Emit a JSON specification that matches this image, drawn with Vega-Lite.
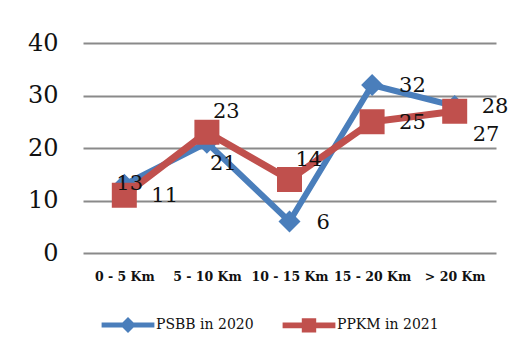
{
  "$schema": "https://vega.github.io/schema/vega-lite/v6.json",
  "width": 413,
  "height": 210,
  "autosize": {"type": "none"},
  "padding": {"left": 83, "top": 43, "right": 15, "bottom": 105},
  "background": "white",
  "config": {
    "view": {"stroke": null},
    "font": "DejaVu Serif"
  },
  "data": {
    "values": [
      {"dist": "0 - 5 Km", "series": "PSBB in 2020", "value": 13},
      {"dist": "5 - 10 Km", "series": "PSBB in 2020", "value": 21},
      {"dist": "10 - 15 Km", "series": "PSBB in 2020", "value": 6},
      {"dist": "15 - 20 Km", "series": "PSBB in 2020", "value": 32},
      {"dist": "> 20 Km", "series": "PSBB in 2020", "value": 28},
      {"dist": "0 - 5 Km", "series": "PPKM in 2021", "value": 11},
      {"dist": "5 - 10 Km", "series": "PPKM in 2021", "value": 23},
      {"dist": "10 - 15 Km", "series": "PPKM in 2021", "value": 14},
      {"dist": "15 - 20 Km", "series": "PPKM in 2021", "value": 25},
      {"dist": "> 20 Km", "series": "PPKM in 2021", "value": 27}
    ]
  },
  "encoding": {
    "x": {
      "field": "dist",
      "type": "nominal",
      "sort": ["0 - 5 Km", "5 - 10 Km", "10 - 15 Km", "15 - 20 Km", "> 20 Km"],
      "scale": {"type": "point", "padding": 0.5},
      "title": null,
      "axis": {
        "domain": false,
        "ticks": false,
        "tickSize": 0,
        "labelAngle": 0,
        "labelPadding": 17,
        "labelFont": "DejaVu Serif",
        "labelFontSize": 12.5,
        "labelFontWeight": "bold",
        "labelColor": "#111111"
      }
    },
    "y": {
      "field": "value",
      "type": "quantitative",
      "scale": {"domain": [0, 40]},
      "title": null,
      "axis": {
        "values": [0, 10, 20, 30, 40],
        "domain": false,
        "ticks": false,
        "tickSize": 0,
        "labelPadding": 25,
        "labelFont": "DejaVu Serif",
        "labelFontSize": 24,
        "labelColor": "#111111",
        "gridColor": "#8a8a8a",
        "gridWidth": 2,
        "gridOpacity": 1
      }
    }
  },
  "layer": [
    {
      "transform": [{"filter": "datum.series == 'PSBB in 2020'"}],
      "mark": {"type": "line", "strokeWidth": 6, "strokeJoin": "miter"},
      "encoding": {
        "color": {
          "field": "series",
          "type": "nominal",
          "scale": {"domain": ["PSBB in 2020", "PPKM in 2021"], "range": ["#4a7ebb", "#c0504d"]},
          "legend": {
            "orient": "none",
            "direction": "horizontal",
            "legendX": 37,
            "legendY": 274,
            "title": null,
            "padding": 0,
            "symbolSize": 256,
            "labelOffset": 20,
            "columnPadding": 28,
            "labelFont": "DejaVu Serif",
            "labelFontSize": 14,
            "labelColor": "#111111",
            "encode": {
              "symbols": {
                "update": {
                  "shape": {"signal": "datum.value == 'PSBB in 2020' ? 'M-3.3,-0.3L3.3,-0.3L3.3,0.3L-3.3,0.3ZM0,-1L1,0L0,1L-1,0Z' : 'M-3.3,-0.35L3.3,-0.35L3.3,0.35L-3.3,0.35ZM-0.9,-0.9L0.9,-0.9L0.9,0.9L-0.9,0.9Z'"},
                  "fill": {"signal": "scale('color', datum.value)"},
                  "stroke": {"value": "transparent"},
                  "strokeWidth": {"value": 0},
                  "opacity": {"value": 1}
                }
              }
            }
          }
        }
      }
    },
    {
      "transform": [{"filter": "datum.series == 'PSBB in 2020'"}],
      "mark": {"type": "point", "shape": "diamond", "filled": true, "size": 484, "color": "#4a7ebb", "opacity": 1}
    },
    {
      "transform": [{"filter": "datum.series == 'PPKM in 2021'"}],
      "mark": {"type": "line", "strokeWidth": 7, "strokeJoin": "miter"},
      "encoding": {
        "color": {"field": "series", "type": "nominal"}
      }
    },
    {
      "transform": [{"filter": "datum.series == 'PPKM in 2021'"}],
      "mark": {"type": "point", "shape": "square", "filled": true, "size": 625, "color": "#c0504d", "opacity": 1}
    },
    {
      "transform": [{"filter": "(datum.series == 'PPKM in 2021' && (datum.dist == '0 - 5 Km' || datum.dist == '15 - 20 Km')) || (datum.series == 'PSBB in 2020' && (datum.dist == '10 - 15 Km' || datum.dist == '15 - 20 Km' || datum.dist == '> 20 Km'))"}],
      "mark": {"type": "text", "align": "left", "baseline": "middle", "dx": 27, "dy": 1, "fontSize": 21, "color": "#111111"},
      "encoding": {"text": {"field": "value", "type": "quantitative"}}
    },
    {
      "transform": [{"filter": "datum.series == 'PPKM in 2021' && (datum.dist == '5 - 10 Km' || datum.dist == '10 - 15 Km')"}],
      "mark": {"type": "text", "align": "left", "baseline": "middle", "dx": 6, "dy": -20, "fontSize": 21, "color": "#111111"},
      "encoding": {"text": {"field": "value", "type": "quantitative"}}
    },
    {
      "transform": [{"filter": "datum.series == 'PSBB in 2020' && datum.dist == '5 - 10 Km'"}],
      "mark": {"type": "text", "align": "left", "baseline": "middle", "dx": 3, "dy": 21, "fontSize": 21, "color": "#111111"},
      "encoding": {"text": {"field": "value", "type": "quantitative"}}
    },
    {
      "transform": [{"filter": "datum.series == 'PPKM in 2021' && datum.dist == '> 20 Km'"}],
      "mark": {"type": "text", "align": "left", "baseline": "middle", "dx": 18, "dy": 24, "fontSize": 21, "color": "#111111"},
      "encoding": {"text": {"field": "value", "type": "quantitative"}}
    },
    {
      "transform": [{"filter": "datum.series == 'PSBB in 2020' && datum.dist == '0 - 5 Km'"}],
      "mark": {"type": "text", "align": "left", "baseline": "middle", "dx": -8, "dy": -1, "fontSize": 21, "color": "#111111"},
      "encoding": {"text": {"field": "value", "type": "quantitative"}}
    }
  ]
}
